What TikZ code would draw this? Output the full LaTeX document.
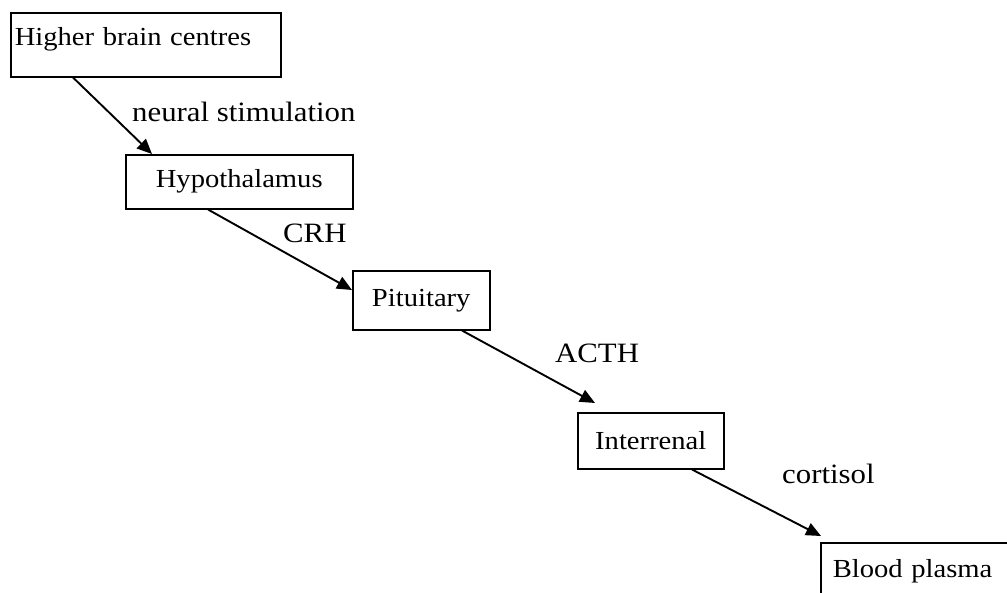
\documentclass[tikz,border=0pt]{standalone}
\usepackage{fontspec}
\setmainfont[FakeStretch=1.1]{Liberation Serif}
\usetikzlibrary{arrows.meta}

\tikzset{
  organ/.style={draw, rectangle, line width=1.5pt, anchor=north west, font=\fontsize{26}{30}\selectfont},
  hormone/.style={anchor=base west, inner sep=0pt, font=\fontsize{28}{32}\selectfont},
  link/.style={line width=1.9pt, -{Triangle[length=15pt,width=13pt]}}
}

\begin{document}
\begin{tikzpicture}[x=1pt, y=-1pt]%
   \useasboundingbox (0,0) rectangle (1007,592);
   \clip (0,0) rectangle (1007,592);
   % the cascade, top left to bottom right
   \node[organ, inner xsep=4pt, inner ysep=0pt, text width=262pt, text height=33pt, text depth=31pt, align=left] (brain) at (10,12) {Higher brain centres};
   \node[organ, minimum width=227pt, minimum height=54pt] (hypo) at (125,154) {Hypothalamus};
   \node[organ, minimum width=137pt, minimum height=59pt] (pit) at (352,270) {Pituitary};
   \node[organ, minimum width=146pt, minimum height=56pt] (inter) at (577,412) {Interrenal};
   \node[organ, inner xsep=12pt, inner ysep=0pt, text width=180pt, text height=35pt, text depth=40pt, align=left] (plasma) at (820,542) {Blood plasma};
   % signals
   \draw[link] ([xshift=63pt]brain.south west) -- ([xshift=27pt]hypo.north west);
   \draw[link] ([xshift=83pt]hypo.south west) -- ([yshift=-20pt]pit.north west);
   \draw[link] ([xshift=110pt]pit.south west) -- ([xshift=18pt,yshift=9pt]inter.north west);
   \draw[link] ([xshift=115pt]inter.south west) -- ([xshift=1pt,yshift=6pt]plasma.north west);
   \node[hormone] (neural) at (132,121) {neural stimulation};
   \node[hormone] (crh) at (283,242) {CRH};
   \node[hormone] (acth) at (555,362) {ACTH};
   \node[hormone] (cort) at (782,483) {cortisol};
\end{tikzpicture}
\end{document}
